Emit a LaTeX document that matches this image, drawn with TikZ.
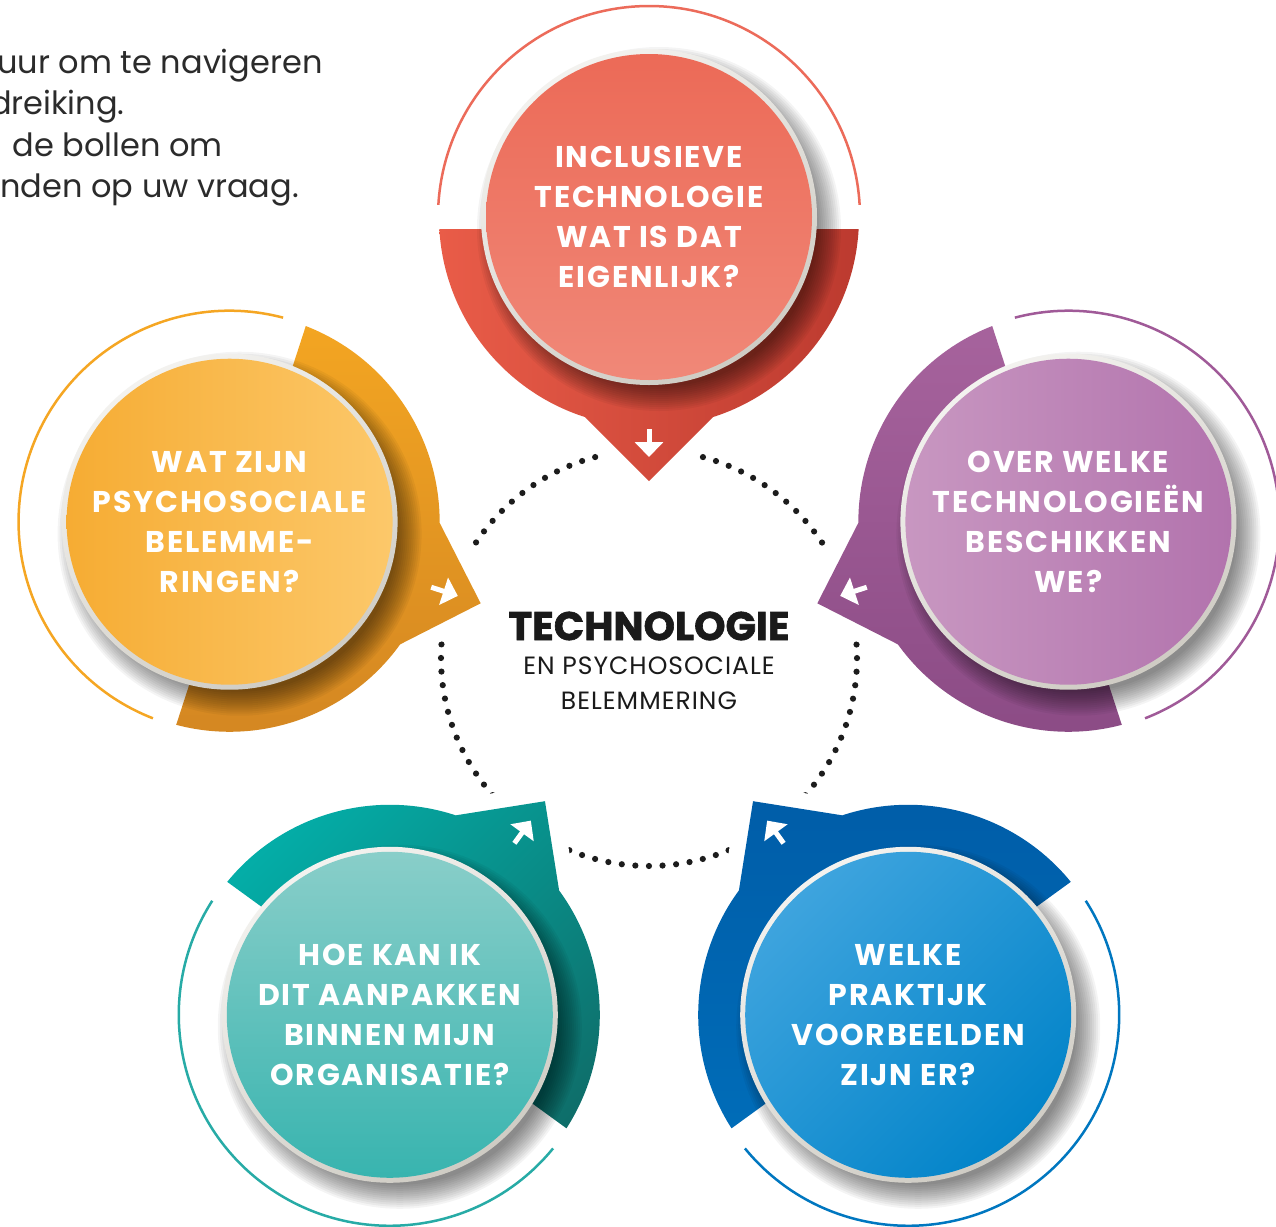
\documentclass[tikz,border=0pt]{standalone}
\usepackage{fontspec}
\setmainfont{Poppins}
\newfontfamily\heavyfont{Poppins}[FakeBold=1.5]
\usetikzlibrary{calc,arrows.meta}

\definecolor{introc}{HTML}{2B2B2B}
\definecolor{titlec}{HTML}{1A1A1A}
\definecolor{dotc}{HTML}{1C1C1C}
\definecolor{rimA}{HTML}{F3F2EF}
\definecolor{rimB}{HTML}{CFCCC4}
% red
\definecolor{rbA}{HTML}{E95C48}\definecolor{rbB}{HTML}{E4302B}\definecolor{rbC}{HTML}{BC3A2F}
\definecolor{riA}{HTML}{EC6A57}\definecolor{riB}{HTML}{F08878}\definecolor{rarc}{HTML}{EC6B5A}
% orange
\definecolor{obA}{HTML}{F6A822}\definecolor{obB}{HTML}{F08A03}\definecolor{obC}{HTML}{D58822}
\definecolor{oiA}{HTML}{F6AC33}\definecolor{oiB}{HTML}{FCC86A}\definecolor{oarc}{HTML}{F5A623}
% purple
\definecolor{pbA}{HTML}{A9659F}\definecolor{pbB}{HTML}{8F4584}\definecolor{pbC}{HTML}{8A4A84}
\definecolor{piA}{HTML}{C897C1}\definecolor{piB}{HTML}{B273AD}\definecolor{parc}{HTML}{A05A98}
% teal
\definecolor{tbA}{HTML}{03B0AA}\definecolor{tbB}{HTML}{009C95}\definecolor{tbC}{HTML}{0F6A66}
\definecolor{tiA}{HTML}{89CEC9}\definecolor{tiB}{HTML}{38B4AF}\definecolor{tarc}{HTML}{27ABA6}
% blue
\definecolor{bbA}{HTML}{005CA7}\definecolor{bbB}{HTML}{0072BE}
\definecolor{biA}{HTML}{3EA4DE}\definecolor{biB}{HTML}{0384C9}\definecolor{barc}{HTML}{0077C0}

\tikzset{
  x=0.5pt, y=0.5pt,
  bubtext/.style={text=white, align=center, font=\bfseries\fontsize{15pt}{20pt}\selectfont\addfontfeature{LetterSpace=6}},
  intro/.style={text=introc, font=\fontsize{16pt}{20pt}\selectfont, inner sep=0pt},
  dots/.style={draw=dotc, line width=3.1pt, line cap=round, dash pattern=on 0pt off 6.807pt},
  halo/.style={draw=white, line width=16pt, line join=round},
  rim/.style={top color=rimA, bottom color=rimB, shading angle=30},
  thinarc/.style={line width=1.25pt},
  redband/.style={left color=rbA, middle color=rbB, right color=rbC},
  redinner/.style={top color=riA, bottom color=riB},
  redarc/.style={draw=rarc},
  orangeband/.style={top color=obA, middle color=obB, bottom color=obC},
  orangeinner/.style={left color=oiA, right color=oiB},
  orangearc/.style={draw=oarc},
  purpleband/.style={top color=pbA, middle color=pbB, bottom color=pbC},
  purpleinner/.style={left color=piA, right color=piB},
  purplearc/.style={draw=parc},
  tealband/.style={top color=tbA, middle color=tbB, bottom color=tbC, shading angle=45},
  tealinner/.style={top color=tiA, bottom color=tiB},
  tealarc/.style={draw=tarc},
  blueband/.style={top color=bbA, bottom color=bbB},
  blueinner/.style={top color=biA, bottom color=biB, shading angle=45},
  bluearc/.style={draw=barc},
}

\newcommand\bubble[4]{% #1 angle from hub, #2 style prefix, #3 node name, #4 text
  \coordinate (#3c) at ($(hub)+(#1:441)$);
  \begin{scope}[shift={(#3c)}, rotate=#1+180]
    \begin{scope}
      \clip (12,-300) rectangle (300,300);
      \shade[#2band] (0,0) circle[radius=210] (264,0) -- (172,92) -- (172,-92) -- cycle;
    \end{scope}
    \draw[#2arc, thinarc] (93.3:211) arc[start angle=93.3, end angle=266.7, radius=211];
    \draw[white, line width=2.5pt, -{Triangle[width=14pt,length=7.5pt]}] (212,0) -- (240,0);
  \end{scope}
  \foreach \k in {0,...,12} \fill[black, opacity=0.042] ($(#3c)+(10,-12)$) circle[radius=158+2*\k];
  \shade[rim] (#3c) circle[radius=168];
  \shade[#2inner] (#3c) circle[radius=163];
  \node[bubtext] (#3) at (#3c) {#4};
}

\begin{document}
\begin{tikzpicture}
\useasboundingbox (0,0) rectangle (1276,-1227);
\fill[white] (0,0) rectangle (1276,-1227);
\clip (0,0) rectangle (1276,-1227);

\coordinate (hub) at (649,-658);

% intro text (cut at the left edge, as in the original)
\node[intro, anchor=base east] (l1) at (323,-73) {uur om te navigeren};
\node[intro, anchor=base east] (l2) at (125,-114.5) {dreiking.};
\node[intro, anchor=base east] (l3) at (223,-156) {de bollen om};
\node[intro, anchor=base west] (l4) at (0,-197) {nden op uw vraag.};

% dotted ring
\draw[dots] ($(hub)+(90:208)$) arc[start angle=90, end angle=450, radius=208];

% white halos round the pointers
\foreach \a in {90,162,18,234,306}{
  \begin{scope}[shift={($(hub)+(\a:441)$)}, rotate=\a+180]
    \draw[halo] (172,92) -- (264,0) -- (172,-92);
  \end{scope}
}

% centre text
\node[font=\heavyfont\bfseries\fontsize{20pt}{22pt}\selectfont, text=titlec] (title) at (649,-626) {TECHNOLOGIE};
\node[font=\fontsize{12.5pt}{17.5pt}\selectfont\addfontfeature{LetterSpace=4}, text=titlec, align=center] (sub) at (649,-683) {EN PSYCHOSOCIALE\\BELEMMERING};

\bubble{90}{red}{top}{INCLUSIEVE\\TECHNOLOGIE\\WAT IS DAT\\EIGENLIJK?}
\bubble{162}{orange}{left}{WAT ZIJN\\PSYCHOSOCIALE\\BELEMME-\\RINGEN?}
\bubble{18}{purple}{right}{OVER WELKE\\TECHNOLOGIEËN\\BESCHIKKEN\\WE?}
\bubble{234}{teal}{botleft}{HOE KAN IK\\DIT AANPAKKEN\\BINNEN MIJN\\ORGANISATIE?}
\bubble{306}{blue}{botright}{WELKE\\PRAKTIJK\\VOORBEELDEN\\ZIJN ER?}
\end{tikzpicture}
\end{document}
